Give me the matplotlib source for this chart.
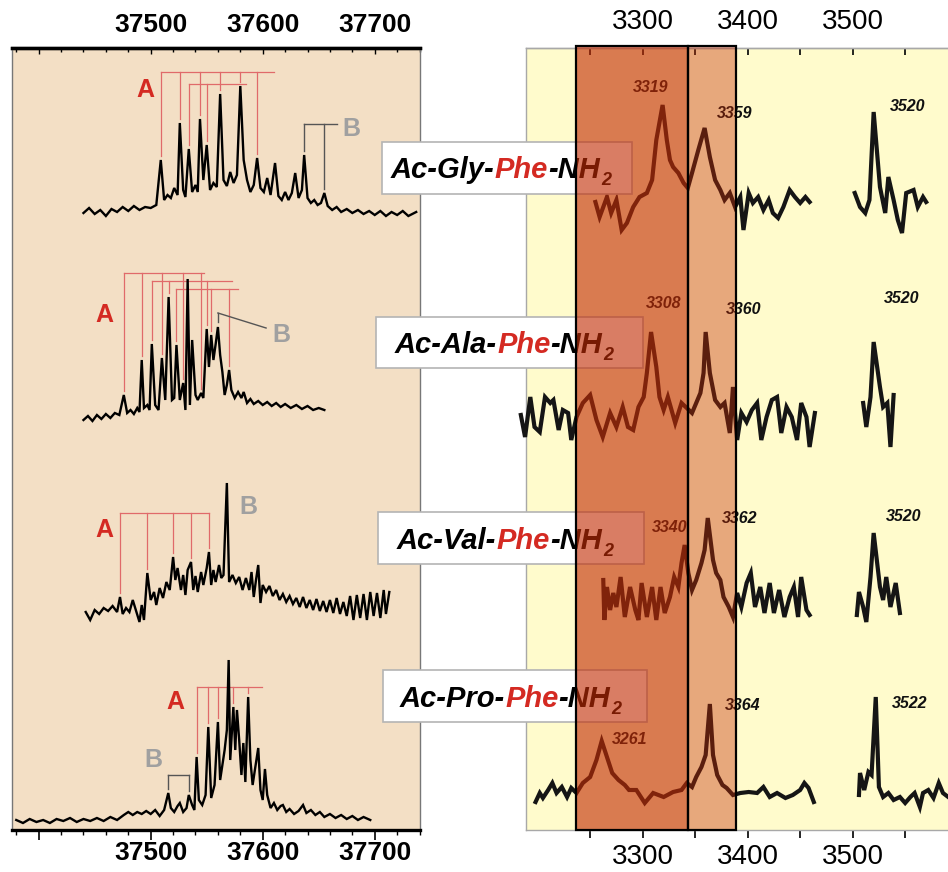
import numpy as np
import matplotlib
matplotlib.use("Agg")
import matplotlib.pyplot as plt
from matplotlib.patches import Rectangle
from matplotlib.text import Annotation
from matplotlib.ticker import FixedLocator

plt.rcParams['font.family'] = ['Liberation Sans', 'DejaVu Sans']

# ---------------------------------------------------------------- data
peptides = ['Gly', 'Ala', 'Val', 'Pro']

# mass spectra (m/z, intensity)
ms_gly = [(37440, 2), (37445, 7), (37450, 1), (37455, 5), (37460, -1), (37465, 6), (37470, 3),
          (37475, 8), (37480, 4), (37485, 9), (37490, 5), (37495, 8), (37500, 7), (37505, 10),
          (37509, 55), (37512, 15), (37515, 20), (37518, 17), (37521, 27), (37524, 20), (37526, 92),
          (37529, 25), (37531, 18), (37534, 66), (37537, 23), (37540, 30), (37542, 23), (37544, 96),
          (37547, 35), (37550, 70), (37553, 25), (37556, 32), (37559, 28), (37562, 121), (37565, 35),
          (37568, 29), (37571, 43), (37574, 32), (37577, 40), (37580, 129), (37583, 55), (37586, 35),
          (37589, 23), (37592, 30), (37595, 57), (37598, 27), (37601, 23), (37604, 37), (37607, 20),
          (37611, 52), (37614, 19), (37617, 15), (37620, 23), (37623, 15), (37626, 22), (37629, 42),
          (37632, 17), (37635, 25), (37637, 60), (37640, 17), (37643, 12), (37646, 15), (37649, 10),
          (37652, 12), (37655, 22), (37658, 9), (37662, 5), (37666, 8), (37670, 3), (37675, 6),
          (37680, 2), (37685, 5), (37690, 1), (37695, 4), (37700, 0), (37705, 4), (37710, -1),
          (37715, 3), (37720, 0), (37725, 4), (37730, -1), (37737, 3)]

ms_ala = [(37440, 2), (37444, 6), (37448, 1), (37452, 7), (37456, 3), (37460, 8), (37464, 4),
          (37468, 9), (37472, 7), (37476, 27), (37479, 9), (37482, 12), (37485, 8), (37488, 14),
          (37490, 10), (37492, 62), (37494, 14), (37497, 17), (37499, 12), (37501, 78), (37504, 17),
          (37507, 12), (37510, 64), (37513, 22), (37516, 125), (37519, 22), (37521, 24), (37523, 77),
          (37526, 22), (37529, 39), (37531, 12), (37533, 143), (37535, 17), (37537, 82), (37540, 27),
          (37542, 22), (37545, 29), (37547, 24), (37550, 93), (37552, 55), (37554, 87), (37556, 62),
          (37558, 78), (37560, 95), (37562, 67), (37564, 50), (37566, 27), (37568, 37), (37570, 52),
          (37572, 32), (37575, 24), (37578, 30), (37581, 24), (37583, 30), (37586, 19), (37589, 23),
          (37592, 18), (37596, 21), (37600, 17), (37604, 20), (37608, 16), (37612, 19), (37616, 15),
          (37620, 18), (37625, 14), (37630, 17), (37635, 13), (37640, 16), (37645, 12), (37650, 14),
          (37655, 12)]

ms_val = [(37442, 6), (37446, -2), (37450, 8), (37454, 4), (37458, 10), (37462, 7), (37466, 12),
          (37470, 6), (37472.6, 21), (37475, 4), (37478, 10), (37481, 6), (37484, 18), (37487, 7),
          (37490, -4), (37492, 13), (37494, -2), (37497, 45), (37500, 18), (37503, 26), (37505, 13),
          (37508, 30), (37511, 20), (37514, 36), (37517, 28), (37520, 61), (37522, 38), (37524, 50),
          (37527, 28), (37529, 43), (37531, 23), (37533, 48), (37536, 56), (37538, 28), (37540, 42),
          (37542, 26), (37545, 46), (37547, 33), (37550, 50), (37552, 66), (37554, 33), (37556, 48),
          (37558, 36), (37561, 53), (37563, 40), (37565, 43), (37568, 135), (37570, 36), (37573, 43),
          (37576, 35), (37579, 41), (37582, 28), (37585, 40), (37588, 28), (37590, 46), (37592, 21),
          (37594, 38), (37596, 53), (37598, 15), (37600, 33), (37603, 26), (37606, 32), (37609, 22),
          (37612, 28), (37615, 18), (37618, 24), (37621, 16), (37624, 22), (37627, 14), (37630, 20),
          (37633, 11), (37636, 21), (37639, 10), (37642, 18), (37645, 8), (37648, 19), (37651, 7),
          (37654, 17), (37657, 6), (37660, 18), (37663, 5), (37666, 20), (37669, 4), (37672, 16),
          (37675, 2), (37678, 22), (37681, -2), (37684, 23), (37687, 0), (37690, 24), (37693, -2),
          (37696, 26), (37699, 2), (37702, 25), (37705, 0), (37708, 28), (37710, 4), (37713, 26)]

ms_pro = [(37380, 2), (37386, -1), (37392, 3), (37398, 0), (37404, 2), (37410, -1), (37416, 3),
          (37422, 1), (37428, 4), (37434, 0), (37440, 3), (37446, 1), (37452, 4), (37458, 1),
          (37464, 5), (37470, 2), (37476, 7), (37480, 10), (37484, 7), (37488, 10), (37492, 8),
          (37496, 11), (37500, 8), (37504, 12), (37508, 6), (37512, 12), (37515.7, 29), (37518, 14),
          (37521, 10), (37524, 16), (37526, 19), (37529, 10), (37532, 14), (37534, 27), (37537, 17),
          (37539, 12), (37541, 65), (37543, 22), (37546, 17), (37549, 27), (37551.4, 95), (37554, 24),
          (37557, 37), (37560, 100), (37562, 42), (37564, 57), (37566, 72), (37568, 92), (37569.6, 162),
          (37571, 62), (37573.8, 115), (37575.5, 72), (37577, 112), (37579, 82), (37581, 47),
          (37582.7, 79), (37584.5, 40), (37587, 125), (37589, 62), (37591, 37), (37593, 52),
          (37596, 74), (37598, 32), (37600, 22), (37602, 53), (37604, 27), (37607, 14), (37610, 19),
          (37613, 12), (37616, 16), (37618, 17), (37621, 10), (37624, 13), (37628, 8), (37632, 11),
          (37636, 17), (37639, 9), (37643, 12), (37647, 7), (37651, 10), (37655, 5), (37660, 8),
          (37665, 4), (37670, 7), (37675, 3), (37680, 6), (37685, 2), (37690, 5), (37696, 2)]

# IR spectra (wavenumber / cm-1, signal): NH region and free acid/amide region
ir_gly_nh = [(3255, -2), (3259, -17), (3266, 3), (3270, -13), (3275, 0), (3280, -30), (3285, -23),
             (3291, -7), (3297, 3), (3304, 7), (3309, 20), (3313, 60), (3319, 95), (3323, 60),
             (3326, 40), (3329, 33), (3334, 27), (3339, 17), (3343, 12), (3347, 27), (3353, 50),
             (3359, 72), (3364, 43), (3369, 20), (3374, 10), (3378, 0), (3383, 7), (3388, -7),
             (3393, 3), (3396, -30), (3401, 7), (3405, -3), (3410, 3), (3415, -10), (3420, 0),
             (3424, -13), (3429, -18), (3434, -7), (3440, 10), (3445, 3), (3450, -3), (3455, 3),
             (3459, -2)]
ir_gly_hi = [(3502, 7), (3507, -7), (3512, -13), (3516, 0), (3520, 88), (3526, 13), (3531, -13),
             (3534, 23), (3539, 0), (3543, -20), (3547, -33), (3551, 7), (3558, 10), (3562, -7),
             (3567, 3), (3570, -2)]

ir_ala_nh = [(3184, -2), (3188, -24), (3193, 16), (3197, -14), (3202, -19), (3207, 16), (3212, 10),
             (3215, 13), (3220, -17), (3224, 3), (3229, 0), (3232, -27), (3237, -4), (3243, 10),
             (3250, 18), (3256, -7), (3262, -24), (3269, 0), (3275, -14), (3281, 6), (3286, -14),
             (3291, -17), (3296, 6), (3301, 16), (3304, 40), (3308, 81), (3313, 46), (3316, 16),
             (3320, 3), (3324, 16), (3331, -10), (3337, 10), (3342, 5), (3347, 0), (3351, 10),
             (3355, 20), (3358, 40), (3360, 81), (3364, 40), (3369, 13), (3374, 6), (3378, 10),
             (3383, -20), (3386, 26), (3390, -27), (3394, 0), (3399, -9), (3404, 3), (3409, 10),
             (3413, -27), (3418, -4), (3423, 13), (3428, 16), (3432, -20), (3437, 6), (3442, -4),
             (3447, -27), (3451, 10), (3456, -4), (3459, -34), (3464, 0)]
ir_ala_hi = [(3510, 10), (3513, -14), (3517, 16), (3520, 71), (3526, 26), (3529, 6), (3533, 10),
             (3536, -34), (3539, 18)]

ir_val_nh = [(3262.5, 20), (3263.5, -20), (3266, 13), (3269, -10), (3272, 7), (3275, -7), (3279, 23),
             (3283, -17), (3288, 13), (3293, -10), (3296, -20), (3299, 17), (3304, -17), (3309, 13),
             (3313, -20), (3317, 13), (3321, -13), (3326, 3), (3330, 23), (3334, 13), (3337, 37),
             (3340, 55), (3343.5, 27), (3347, 10), (3351, 20), (3356, 37), (3359, 50), (3362, 82),
             (3367, 40), (3370, 27), (3374, 20), (3377, 3), (3382, -7), (3386, -17), (3390, 7),
             (3394, -7), (3399, 17), (3403, 27), (3407, -7), (3412, 13), (3416, -13), (3421, 17),
             (3425, -13), (3430, 10), (3435, -17), (3440, 3), (3444, 13), (3448, -17), (3451, 23),
             (3456, -10), (3459, -15)]
ir_val_hi = [(3504, -15), (3506, 8), (3510, -7), (3513, -22), (3517, 23), (3520, 67), (3526, 13),
             (3529, 0), (3532, 23), (3536, -7), (3541, 17), (3545, -13)]

ir_pro_nh = [(3198, -7), (3202, 2), (3205, -3), (3210, 5), (3214, 12), (3218, 2), (3223, 8),
             (3228, -2), (3232, 7), (3237, 2), (3243, 12), (3250, 18), (3256, 35), (3261, 54),
             (3266, 38), (3271, 22), (3277, 15), (3283, 10), (3287, 5), (3294, 5), (3302, -8),
             (3310, 2), (3320, -2), (3329, 3), (3337, 5), (3342, 12), (3347, 8), (3351, 18),
             (3356, 28), (3360, 40), (3364, 91), (3367, 40), (3371, 20), (3376, 10), (3380, 7),
             (3386, 0), (3393, 2), (3401, 3), (3409, 2), (3415, 8), (3421, -2), (3428, 2),
             (3436, -3), (3443, 0), (3450, 5), (3454, 12), (3458, 7), (3463, -7)]
ir_pro_hi = [(3506, 0), (3507, 22), (3511, 5), (3515, 23), (3518, 20), (3522, 98), (3525, 8),
             (3529, -2), (3534, 2), (3539, -5), (3545, -2), (3550, -8), (3555, -2), (3559, 2),
             (3564, -12), (3567, 2), (3572, 5), (3577, -3), (3582, 12), (3586, 2), (3591, -2)]

ms_spectra = [ms_gly, ms_ala, ms_val, ms_pro]
ir_spectra = [(ir_gly_nh, ir_gly_hi), (ir_ala_nh, ir_ala_hi),
              (ir_val_nh, ir_val_hi), (ir_pro_nh, ir_pro_hi)]

# assigned band positions (cm-1)
ir_bands = [[3319, 3359, 3520], [3308, 3360, 3520], [3340, 3362, 3520], [3261, 3364, 3522]]

# progression A: (bar level, member peaks, bar end)
series_a = [
    [(143, [37509, 37526, 37544, 37562, 37580, 37595], 37610), (131, [37534, 37550], 37585)],
    [(149, [37476, 37492, 37510, 37529, 37545], 37548), (141, [37501, 37516, 37550], 37573),
     (133, [37523, 37554, 37570], 37578)],
    [(105, [37472.6, 37497, 37520, 37536, 37552], 37552)],
    [(135, [37541, 37551.4, 37560, 37573.8, 37587], 37599)],
]
# progression B brackets
series_b = [[(91, [37637, 37655], 37666)], [], [], [(47, [37515.7, 37534], 37534)]]

ms_ticks = [37400, 37500, 37600, 37700]
ms_ticklabels = ['', '37500', '37600', '37700']
ir_ticks = [3300, 3400, 3500]
ir_ticklabels = ['3300', '3400', '3500']

# ---------------------------------------------------------------- layout
W, H = 948, 872
fig = plt.figure(figsize=(W / 100, H / 100), dpi=100)
fig.patch.set_facecolor('white')


def fx(px):
    return px / W


def fy(py):
    return 1 - py / H


axL = fig.add_axes([fx(12), fy(830), (420 - 12) / W, (830 - 48) / H])
axR = fig.add_axes([fx(526), fy(830), (948 - 526) / W, (830 - 48) / H])

ms_offsets = [615, 408, 212, 8]
ir_offsets = [630, 417, 230, 35]
red = '#d42a22'
grey_label = '#a0a0a0'

# ---------------- mass spectra panel
axL.set_facecolor('#f3dfc5')
axL.set_xlim(37376.2, 37740.4)
axL.set_ylim(0, 782)
axL.set_yticks([])
for sp in ('left', 'right'):
    axL.spines[sp].set_color('#777777')
    axL.spines[sp].set_linewidth(1.0)
for sp in ('top', 'bottom'):
    axL.spines[sp].set_color('black')
    axL.spines[sp].set_linewidth(2.4)

for spec, off, brA, brB in zip(ms_spectra, ms_offsets, series_a, series_b):
    x = np.array([p[0] for p in spec])
    y = np.array([p[1] for p in spec]) + off
    axL.plot(x, y, color='black', lw=1.7, solid_joinstyle='miter', zorder=3)
    for level, members, end in brA:
        axL.plot([members[0], end], [off + level] * 2, color='#e06a6a', lw=0.9, zorder=2)
        for m in members:
            bottom = min(np.interp(m, x, y) + 4, off + level)
            axL.plot([m, m], [off + level, bottom], color='#e06a6a', lw=0.9, zorder=2)
    for level, members, end in brB:
        axL.plot([members[0], end], [off + level] * 2, color='#555555', lw=1.0, zorder=2)
        for m in members:
            bottom = min(np.interp(m, x, y) + 4, off + level)
            axL.plot([m, m], [off + level, bottom], color='#555555', lw=1.0, zorder=2)

# Ac-Ala-Phe-NH2: pointer to the B cluster
off = ms_offsets[1]
axL.plot([37560, 37560], [off + 100, off + 109], color='#555555', lw=1.0)
axL.plot([37560, 37603], [off + 109, off + 94], color='#555555', lw=1.0)

letter_pos = [((37495, 125), (37679.5, 86)), ((37459, 107), (37616.6, 87)),
              ((37458.3, 88), (37587, 111)), ((37521.7, 120), (37502.3, 62))]
for (pa, pb), off in zip(letter_pos, ms_offsets):
    axL.text(pa[0], off + pa[1], 'A', color=red, fontsize=18, fontweight='bold',
             ha='center', va='center')
    axL.text(pb[0], off + pb[1], 'B', color=grey_label, fontsize=18, fontweight='bold',
             ha='center', va='center')

axL.xaxis.set_major_locator(FixedLocator(ms_ticks))
axL.xaxis.set_minor_locator(FixedLocator(np.arange(37380, 37741, 20)))
axL.set_xticklabels(ms_ticklabels)
axL.tick_params(axis='x', which='major', direction='out', length=7, width=1.2,
                labelsize=19, pad=1, color='black')
axL.tick_params(axis='x', which='minor', direction='out', length=3.5, width=1.0)
for lab in axL.get_xticklabels():
    lab.set_fontweight('bold')

topL = axL.secondary_xaxis('top')
topL.xaxis.set_major_locator(FixedLocator(ms_ticks))
topL.xaxis.set_minor_locator(FixedLocator(np.arange(37380, 37741, 20)))
topL.set_xticklabels(ms_ticklabels)
topL.tick_params(axis='x', which='major', direction='in', length=4, width=1.0,
                 labelsize=19, pad=8)
topL.tick_params(axis='x', which='minor', direction='in', length=3, width=1.0)
topL.spines['top'].set_linewidth(2.4)
for lab in topL.get_xticklabels():
    lab.set_fontweight('bold')

# ---------------- IR panel
axR.set_facecolor('#fffbcc')
axR.set_xlim(3188.9, 3590.8)
axR.set_ylim(0, 782)
axR.set_yticks([])
axR.spines['right'].set_visible(False)
for sp in ('left', 'top', 'bottom'):
    axR.spines[sp].set_color('#a8a8a8')
    axR.spines[sp].set_linewidth(1.0)

for (nh, hi), off in zip(ir_spectra, ir_offsets):
    for seg in (nh, hi):
        axR.plot([p[0] for p in seg], [p[1] + off for p in seg], color='#151515', lw=3.0,
                 solid_joinstyle='miter', clip_on=False, zorder=3)

band_label_pos = [[(3307.6, 742), (3387.9, 717), (3552, 723.3)],
                  [(3320.3, 526), (3395.8, 520), (3546.7, 531.7)],
                  [(3325.3, 302.3), (3392.7, 311.7), (3548.9, 313.3)],
                  [(3287.9, 90.7), (3395.2, 125), (3554, 126.7)]]
for bands, positions in zip(ir_bands, band_label_pos):
    for b, (tx, ty) in zip(bands, positions):
        axR.text(tx, ty, str(b), fontsize=11.5, fontweight='bold', fontstyle='italic',
                 color='#111111', ha='center', va='center', zorder=4)

axR.xaxis.set_major_locator(FixedLocator(ir_ticks))
axR.xaxis.set_minor_locator(FixedLocator([3250, 3350, 3450, 3550]))
axR.set_xticklabels(ir_ticklabels)
axR.tick_params(axis='x', which='both', direction='out', length=6, width=1.2,
                labelsize=20, pad=4)
topR = axR.secondary_xaxis('top')
topR.xaxis.set_major_locator(FixedLocator(ir_ticks))
topR.xaxis.set_minor_locator(FixedLocator([3250, 3350, 3450, 3550]))
topR.set_xticklabels(ir_ticklabels)
topR.tick_params(axis='x', which='both', direction='in', length=5, width=1.2,
                 labelsize=20, pad=9)
topR.spines['top'].set_color('#a8a8a8')
topR.spines['top'].set_linewidth(1.0)

# ---------------- peptide name boxes
name_boxes = [(382, 142, 632, 194), (376, 317, 643, 368), (378, 512, 644, 564), (383, 670, 647, 722)]
name_text = [(390.7, 178.3), (395, 353.3), (397, 549), (400, 706.7)]
for aa, (bx0, by0, bx1, by1), (tx, ty) in zip(peptides, name_boxes, name_text):
    fig.add_artist(Rectangle((fx(bx0), fy(by1)), (bx1 - bx0) / W, (by1 - by0) / H,
                             transform=fig.transFigure, facecolor='white',
                             edgecolor='#b4b4b4', lw=1.2, zorder=5))
    style = dict(fontsize=21, fontweight='bold', fontstyle='italic', zorder=6)
    prev = fig.text(fx(tx), fy(ty), 'Ac-' + aa + '-', color='black', va='baseline',
                    ha='left', **style)
    for s, c in (('Phe', red), ('-NH', 'black')):
        ann = Annotation(s, xy=(1, 0), xycoords=prev, va='bottom', ha='left', color=c, **style)
        fig.add_artist(ann)
        prev = ann
    sub = Annotation('2', xy=(1, 0), xycoords=prev, xytext=(1, -3.5),
                     textcoords='offset points', va='bottom', ha='left', color='black',
                     fontsize=13, fontweight='bold', fontstyle='italic', zorder=6)
    fig.add_artist(sub)

# ---------------- highlighted NH-stretch windows (drawn over everything)
window_rgb = (195 / 255, 45 / 255, 5 / 255)
fig.add_artist(Rectangle((3236.5, 0), 3343 - 3236.5, 784, transform=axR.transData,
                         facecolor=window_rgb + (0.62,), edgecolor='black', lw=1.6,
                         zorder=10, clip_on=False))
fig.add_artist(Rectangle((3343, 0), 3389 - 3343, 784, transform=axR.transData,
                         facecolor=window_rgb + (0.4,), edgecolor='black', lw=1.6,
                         zorder=10, clip_on=False))

fig.savefig('out.png', dpi=100)
